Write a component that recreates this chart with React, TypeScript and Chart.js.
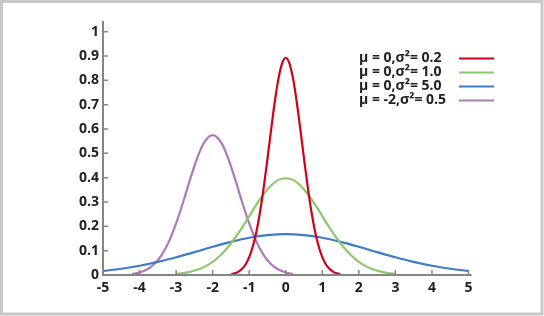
import React, { useEffect, useRef } from "react";
import { Chart, registerables } from "chart.js";

Chart.register(...registerables);

// ---- data ----
const xTicks = [-5, -4, -3, -2, -1, 0, 1, 2, 3, 4, 5];
const xTickLabels = ["-5", "-4", "-3", "-2", "-1", "0", "1", "2", "3", "4", "5"];
const yTicks = [0, 0.1, 0.2, 0.3, 0.4, 0.5, 0.6, 0.7, 0.8, 0.9, 1];
const yTickLabels = ["0", "0.1", "0.2", "0.3", "0.4", "0.5", "0.6", "0.7", "0.8", "0.9", "1"];

const seriesLabels = ["μ = 0,σ²= 0.2", "μ = 0,σ²= 1.0", "μ = 0,σ²= 5.0", "μ = -2,σ²= 0.5"];
const seriesColors = ["#d0021b", "#8cc86c", "#3d7cc9", "#ad78b6"];

const redX = [-1.5, -1.4, -1.3, -1.2, -1.1, -1.0, -0.9, -0.8, -0.7, -0.6, -0.5, -0.4, -0.3, -0.2, -0.1, 0, 0.1, 0.2, 0.3, 0.4, 0.5, 0.6, 0.7, 0.8, 0.9, 1.0, 1.1, 1.2, 1.3, 1.4, 1.5];
const redY = [0.003, 0.0066, 0.013, 0.0244, 0.0433, 0.0732, 0.118, 0.18, 0.262, 0.363, 0.477, 0.598, 0.712, 0.807, 0.87, 0.893, 0.87, 0.807, 0.712, 0.598, 0.477, 0.363, 0.262, 0.18, 0.118, 0.0732, 0.0433, 0.0244, 0.013, 0.0066, 0.003];

const greenX = [-3.0, -2.8, -2.6, -2.4, -2.2, -2.0, -1.8, -1.6, -1.4, -1.2, -1.0, -0.8, -0.6, -0.4, -0.2, 0, 0.2, 0.4, 0.6, 0.8, 1.0, 1.2, 1.4, 1.6, 1.8, 2.0, 2.2, 2.4, 2.6, 2.8, 3.0];
const greenY = [0.0044, 0.0079, 0.0136, 0.0224, 0.0355, 0.054, 0.079, 0.111, 0.15, 0.194, 0.242, 0.29, 0.333, 0.368, 0.391, 0.397, 0.391, 0.368, 0.333, 0.29, 0.242, 0.194, 0.15, 0.111, 0.079, 0.054, 0.0355, 0.0224, 0.0136, 0.0079, 0.0044];

const blueX = [-5, -4.5, -4, -3.5, -3, -2.5, -2, -1.5, -1, -0.5, 0, 0.5, 1, 1.5, 2, 2.5, 3, 3.5, 4, 4.5, 5];
const blueY = [0.0166, 0.0258, 0.038, 0.054, 0.073, 0.094, 0.116, 0.136, 0.153, 0.164, 0.168, 0.164, 0.153, 0.136, 0.116, 0.094, 0.073, 0.054, 0.038, 0.0258, 0.0166];

const purpleX = [-4.2, -4.0, -3.8, -3.6, -3.4, -3.2, -3.0, -2.8, -2.6, -2.4, -2.2, -2.0, -1.8, -1.6, -1.4, -1.2, -1.0, -0.8, -0.6, -0.4, -0.2, 0, 0.2];
const purpleY = [0.0045, 0.0105, 0.0225, 0.044, 0.081, 0.136, 0.212, 0.303, 0.401, 0.49, 0.552, 0.575, 0.552, 0.49, 0.401, 0.303, 0.212, 0.136, 0.081, 0.044, 0.0225, 0.0105, 0.0045];

const seriesX = [redX, greenX, blueX, purpleX];
const seriesY = [redY, greenY, blueY, purpleY];

const FONT = "'Open Sans', 'DejaVu Sans', sans-serif";
const AXIS_COLOR = "#858585";

const decorPlugin = {
  id: "decor",
  beforeDraw(chart: any) {
    const ctx = chart.ctx;
    ctx.save();
    ctx.fillStyle = "#ffffff";
    ctx.fillRect(0, 0, chart.width, chart.height);
    ctx.strokeStyle = "#c8c8c8";
    ctx.lineWidth = 3;
    ctx.strokeRect(1.5, 1.5, chart.width - 3.5, chart.height - 3.5);
    ctx.restore();
  },
  afterDatasetsDraw(chart: any) {
    const ctx = chart.ctx;
    const xs = chart.scales.x;
    const ys = chart.scales.y;
    const a = chart.chartArea;
    ctx.save();
    ctx.strokeStyle = AXIS_COLOR;
    ctx.lineWidth = 2;
    const y0 = ys.getPixelForValue(0);
    const x0 = xs.getPixelForValue(-5);
    ctx.beginPath();
    ctx.moveTo(x0, a.top);
    ctx.lineTo(x0, y0 + 1);
    ctx.moveTo(x0 - 1, y0);
    ctx.lineTo(a.right, y0);
    ctx.stroke();
    ctx.lineWidth = 1.5;
    ctx.beginPath();
    yTicks.forEach((v) => {
      const py = ys.getPixelForValue(v);
      ctx.moveTo(x0, py);
      ctx.lineTo(x0 + 5, py);
    });
    xTicks.forEach((v) => {
      const px = xs.getPixelForValue(v);
      ctx.moveTo(px, y0);
      ctx.lineTo(px, y0 - 5);
    });
    ctx.stroke();
    ctx.restore();
  },
  afterDraw(chart: any) {
    const ctx = chart.ctx;
    ctx.save();
    ctx.font = `bold 14px ${FONT}`;
    ctx.textBaseline = "middle";
    ctx.textAlign = "left";
    seriesLabels.forEach((lab, i) => {
      const y = 58.5 + i * 14;
      ctx.fillStyle = "#222222";
      ctx.fillText(lab, 359, y);
      ctx.strokeStyle = seriesColors[i];
      ctx.lineWidth = 2;
      ctx.beginPath();
      ctx.moveTo(459, y);
      ctx.lineTo(494, y);
      ctx.stroke();
    });
    ctx.restore();
  },
};

export default function App() {
  const ref = useRef<HTMLCanvasElement | null>(null);
  useEffect(() => {
    if (!ref.current) return;
    const datasets = seriesLabels.map((label, i) => ({
      label,
      data: seriesX[i].map((x, j) => ({ x, y: seriesY[i][j] })),
      borderColor: seriesColors[i],
      backgroundColor: seriesColors[i],
      borderWidth: 2.2,
      pointRadius: 0,
      fill: false,
      cubicInterpolationMode: "monotone" as const,
      clip: false as any,
    }));
    const chart = new Chart(ref.current, {
      type: "line",
      data: { datasets },
      options: {
        animation: false,
        responsive: false,
        maintainAspectRatio: false,
        devicePixelRatio: 1,
        layout: { padding: { left: 0, top: 21, right: 72.5, bottom: 0 } },
        plugins: { legend: { display: false }, tooltip: { enabled: false } },
        scales: {
          x: {
            type: "linear",
            min: -5,
            max: 5.082,
            grid: { display: false, drawTicks: false },
            border: { display: false },
            afterBuildTicks: (s: any) => {
              s.ticks = xTicks.map((v) => ({ value: v }));
            },
            afterFit: (s: any) => {
              s.height = 41;
            },
            ticks: {
              autoSkip: false,
              maxRotation: 0,
              padding: 5,
              color: "#222222",
              font: { family: FONT, size: 14, weight: "bold" },
              callback: (_v: any, i: number) => xTickLabels[i],
            },
          },
          y: {
            type: "linear",
            min: 0,
            max: 1.044,
            grid: { display: false, drawTicks: false },
            border: { display: false },
            afterBuildTicks: (s: any) => {
              s.ticks = yTicks.map((v) => ({ value: v }));
            },
            afterFit: (s: any) => {
              s.width = 103;
            },
            ticks: {
              autoSkip: false,
              padding: 4,
              color: "#222222",
              font: { family: FONT, size: 14, weight: "bold" },
              callback: (_v: any, i: number) => yTickLabels[i],
            },
          },
        },
      },
      plugins: [decorPlugin],
    });
    return () => chart.destroy();
  }, []);
  return (
    <div style={{ position: "absolute", left: 0, top: 0, width: 544, height: 316 }}>
      <canvas ref={ref} width={544} height={316} style={{ display: "block" }} />
    </div>
  );
}
